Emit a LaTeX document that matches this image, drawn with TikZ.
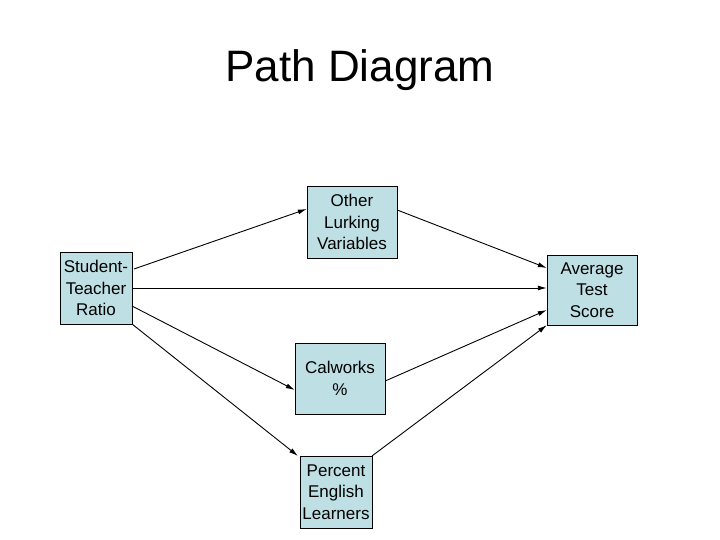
\documentclass[tikz,border=0pt]{standalone}
\usepackage{fontspec}
\setmainfont{Liberation Sans}
\begin{document}
\begin{tikzpicture}[x=1pt,y=-1pt,
  box/.style={draw,fill={rgb,255:red,190;green,223;blue,228},inner sep=0pt,align=center,font=\fontsize{17}{21.5}\selectfont},
  arr/.style={-{Latex[length=9pt,width=5pt]},line width=0.9pt}]
\usetikzlibrary{arrows.meta}
\useasboundingbox (0,0) rectangle (720,540);
\node[font=\fontsize{44}{52}\selectfont] (title) at (360,70) {Path Diagram};
\node[box,minimum width=72pt,minimum height=72pt] (st) at (96,288) {Student-\\Teacher\\Ratio};
\node[box,minimum width=90pt,minimum height=72pt] (ot) at (352,222) {Other\\Lurking\\Variables};
\node[box,minimum width=90pt,minimum height=70pt] (av) at (592,290) {Average\\Test\\Score};
\node[box,minimum width=90pt,minimum height=71pt] (cw) at (340,378.5) {Calworks\\\%};
\node[box,minimum width=72pt,minimum height=72pt] (pe) at (336,492) {Percent\\English\\Learners};
\coordinate (s1) at (134,269);
\coordinate (s2) at (132,306);
\coordinate (s3) at (132,324);
\draw[arr] (s1) -- (ot.west |- 0,209);
\draw[arr] (st.east |- 0,288) -- (av.west |- 0,288);
\draw[arr] (s2) -- (cw.west |- 0,390);
\draw[arr] (s3) -- (298,456) coordinate (pe1);
\draw[arr] (ot.east |- 0,210) -- (av.west |- 0,268);
\draw[arr] (cw.east |- 0,381) -- (av.west |- 0,310);
\draw[arr] (pe.north east) -- (av.south west);
\end{tikzpicture}
\end{document}
